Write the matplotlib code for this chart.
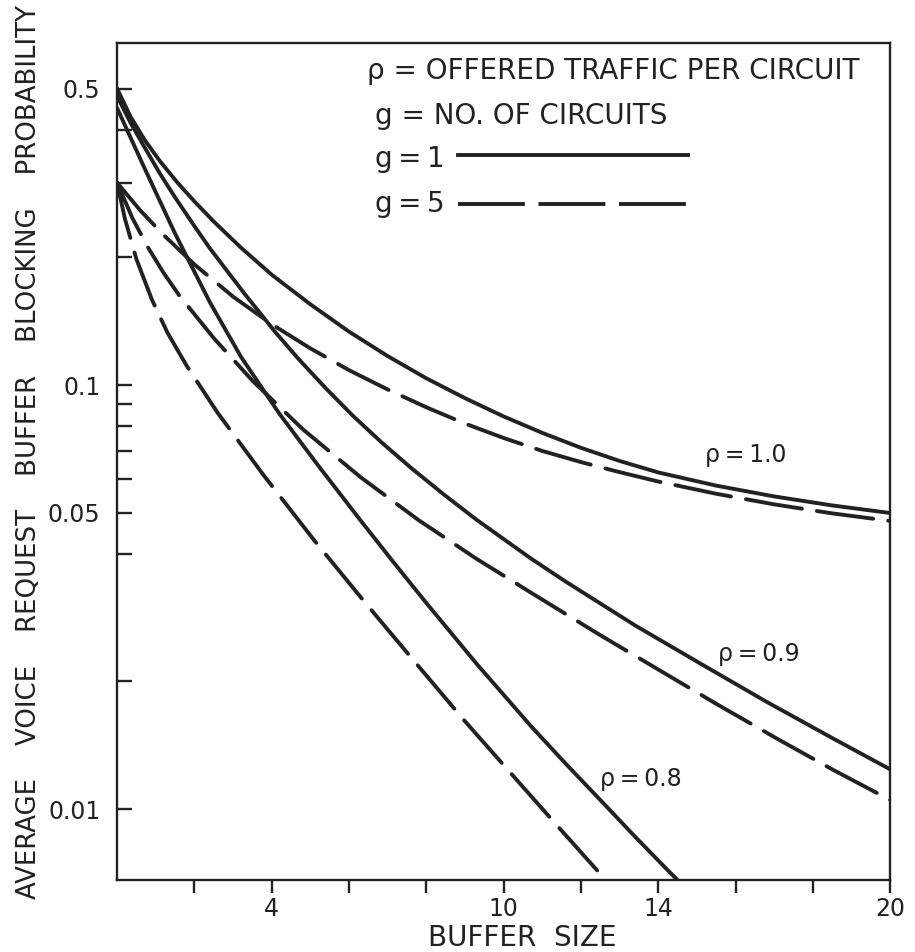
import matplotlib
matplotlib.use("Agg")
import matplotlib.pyplot as plt
from matplotlib.ticker import FixedLocator, NullLocator

# ---- data (buffer size vs blocking probability) ----
# g = 1 (solid curves)
x_r10_g1 = [0, 0.35, 0.7, 1.1, 1.55, 2.0, 2.5, 3.2, 4.0, 5.0, 6.0, 7.0, 8.0, 9.0, 10.0, 11.0,
            12.0, 13.0, 14.0, 15.5, 17.0, 18.5, 20]
y_r10_g1 = [0.50, 0.429, 0.380, 0.338, 0.301, 0.271, 0.243, 0.211, 0.182, 0.155, 0.1336, 0.117,
            0.1037, 0.0931, 0.0843, 0.0771, 0.0711, 0.0662, 0.0622, 0.0579, 0.0546, 0.0520, 0.0499]

x_r09_g1 = [0, 0.35, 0.7, 1.1, 1.5, 2.0, 2.4, 3.3, 4.1, 4.7, 5.4, 6.1, 6.85, 7.6, 8.45, 9.3, 10.7,
            11.6, 13.4, 15.1, 16.8, 18.5, 20]
y_r09_g1 = [0.48, 0.415, 0.365, 0.316, 0.277, 0.237, 0.210, 0.164, 0.133, 0.115, 0.0982, 0.0846,
            0.0731, 0.0638, 0.0552, 0.0481, 0.0390, 0.0344, 0.0271, 0.0220, 0.0179, 0.0147, 0.0124]

x_r08_g1 = [0, 0.7, 1.5, 2.4, 3.2, 4.2, 5.2, 6.3, 7.1, 8.0, 9.3, 10.7, 11.6, 12.5, 13.4, 14.2, 14.6]
y_r08_g1 = [0.45, 0.326, 0.2275, 0.1567, 0.1167, 0.0855, 0.0646, 0.0479, 0.0387, 0.0306, 0.0220,
            0.0157, 0.0128, 0.0105, 0.0086, 0.00724, 0.00665]

# g = 5 (dashed curves)
x_r10_g5 = [0, 0.6, 1.2, 2.0, 3.0, 4.0, 5.0, 6.0, 7.0, 8.0, 9.0, 10.0, 11.0, 12.0, 13.0, 14.0,
            15.5, 17.0, 18.5, 20]
y_r10_g5 = [0.30, 0.258, 0.226, 0.1925, 0.1616, 0.1391, 0.122, 0.1084, 0.0976, 0.0886, 0.0811,
            0.075, 0.0699, 0.0658, 0.0623, 0.0592, 0.0554, 0.0523, 0.0498, 0.0478]

x_r09_g5 = [0, 0.4, 0.8, 1.2, 1.6, 2.5, 3.5, 4.8, 6.3, 7.8, 9.3, 10.7, 12.5, 15.5, 17.1, 18.5, 20]
y_r09_g5 = [0.30, 0.247, 0.211, 0.184, 0.163, 0.129, 0.1024, 0.0787, 0.0606, 0.048, 0.0389,
            0.0324, 0.0257, 0.0177, 0.0146, 0.0124, 0.0105]

x_r08_g5 = [0, 0.2, 0.5, 0.9, 1.3, 1.8, 2.6, 3.8, 5.1, 6.4, 7.6, 9.0, 10.2, 11.4, 12.8]
y_r08_g5 = [0.30, 0.247, 0.198, 0.159, 0.133, 0.111, 0.086, 0.0611, 0.043, 0.0308, 0.0228,
            0.0161, 0.0121, 0.0091, 0.00655]

x_ticks = [2, 4, 6, 8, 10, 12, 14, 16, 18, 20]
x_tick_labels = ["", "4", "", "", "10", "", "14", "", "", "20"]
y_ticks = [0.5, 0.4, 0.3, 0.2, 0.1, 0.09, 0.08, 0.07, 0.06, 0.05, 0.04, 0.02, 0.01]
y_tick_labels = ["0.5", "", "", "", "0.1", "", "", "", "", "0.05", "", "", "0.01"]

curve_labels = ["ρ\u2009=\u20091.0", "ρ\u2009=\u20090.9", "ρ\u2009=\u20090.8"]
curve_label_x = [15.2, 15.55, 12.5]
curve_label_y = [0.0685, 0.0232, 0.0118]

legend_lines = ["ρ = OFFERED TRAFFIC PER CIRCUIT", "g = NO. OF CIRCUITS",
                "g\u2009=\u20091", "g\u2009=\u20095"]

# ---- drawing ----
plt.rcParams['font.family'] = ['DejaVu Sans']
fig = plt.figure(figsize=(9.15, 9.52), dpi=100)
ax = fig.add_axes([0.128, 0.0756, 0.845, 0.879])

ink = "#222222"
lw = 2.8
dash = (0, (14.6, 3.9))

for xs, ys in [(x_r10_g1, y_r10_g1), (x_r09_g1, y_r09_g1), (x_r08_g1, y_r08_g1)]:
    ax.plot(xs, ys, color=ink, lw=lw, solid_capstyle='round', solid_joinstyle='round')
for xs, ys in [(x_r10_g5, y_r10_g5), (x_r09_g5, y_r09_g5), (x_r08_g5, y_r08_g5)]:
    ax.plot(xs, ys, color=ink, lw=lw, linestyle=dash, dash_capstyle='round',
            dash_joinstyle='round')

ax.set_yscale('log')
ax.set_xlim(0, 20)
ax.set_ylim(0.0068, 0.64)

ax.xaxis.set_major_locator(FixedLocator(x_ticks))
ax.set_xticklabels(x_tick_labels)
ax.yaxis.set_major_locator(FixedLocator(y_ticks))
ax.yaxis.set_minor_locator(NullLocator())
ax.set_yticklabels(y_tick_labels)

ax.tick_params(axis='x', direction='out', length=9, width=1.7, colors=ink,
               labelsize=17, pad=3)
ax.tick_params(axis='y', direction='in', length=11, width=1.7, colors=ink,
               labelsize=17, pad=12)
for sp in ax.spines.values():
    sp.set_linewidth(1.7)
    sp.set_color(ink)

ax.set_xlabel("BUFFER  SIZE", fontsize=20, color=ink, va='center')
ax.xaxis.set_label_coords(0.524, -0.069)
ax.set_ylabel("AVERAGE    VOICE    REQUEST    BUFFER    BLOCKING    PROBABILITY",
              fontsize=18.7, color=ink, va='center')
ax.yaxis.set_label_coords(-0.114, 0.512)

for t, xv, yv in zip(curve_labels, curve_label_x, curve_label_y):
    ax.text(xv, yv, t, fontsize=17, color=ink, va='center', ha='left')

tr = ax.transAxes
ax.text(0.323, 0.9665, legend_lines[0], fontsize=20, color=ink, transform=tr, va='center')
ax.text(0.334, 0.913, legend_lines[1], fontsize=20, color=ink, transform=tr, va='center')
ax.text(0.334, 0.862, legend_lines[2], fontsize=20, color=ink, transform=tr, va='center')
ax.text(0.334, 0.808, legend_lines[3], fontsize=20, color=ink, transform=tr, va='center')
ax.plot([0.441, 0.739], [0.866, 0.866], color=ink, lw=lw, transform=tr)
ax.plot([0.441, 0.739], [0.8076, 0.8076], color=ink, lw=lw, transform=tr,
        linestyle=(0, (17.2, 3.5)))

fig.savefig("out.png", dpi=100)
